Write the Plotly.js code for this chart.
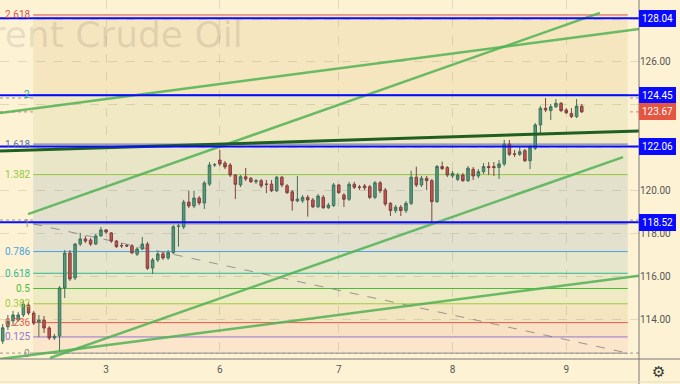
<!DOCTYPE html>
<html><head><meta charset="utf-8">
<script src="https://cdn.plot.ly/plotly-3.0.1.min.js"></script>
<style>html,body{margin:0;padding:0;background:#fdf3d4;}#chart{width:680px;height:384px;}</style>
</head><body><div id="chart"></div>
<script>
// ---- candle data (hourly, Brent) ----
const candleOpen = [112.97,113.64,113.91,113.95,114.19,114.65,114.28,113.86,113.95,113.58,113.12,113.21,115.45,117.08,115.92,117.50,117.74,117.69,117.50,117.89,118.16,118.02,117.64,117.43,117.43,117.42,117.03,117.27,117.50,116.38,116.76,117.04,116.85,117.10,118.32,118.30,119.46,119.28,119.65,119.42,120.30,121.19,121.42,121.28,121.19,120.72,120.26,120.64,120.57,120.41,120.46,120.30,120.30,119.99,120.62,120.22,119.94,119.51,119.52,119.68,119.56,119.24,119.68,119.20,119.30,120.26,119.79,119.59,120.29,120.16,120.21,120.18,119.68,120.36,120.02,119.40,119.06,119.22,119.06,119.40,120.62,120.26,120.57,120.46,119.48,121.12,121.07,120.68,120.52,120.72,120.46,120.99,120.68,120.88,121.12,121.12,121.08,121.24,122.17,121.71,121.69,121.86,121.39,121.97,123.06,123.84,123.73,123.91,124.07,123.76,123.60,123.45,123.94];
const candleHigh = [113.77,114.19,114.38,114.33,114.89,114.79,114.38,114.19,114.14,113.67,113.30,115.54,117.22,117.22,117.55,118.02,117.88,117.78,117.97,118.30,118.20,118.06,117.69,117.55,117.50,117.50,117.36,117.83,117.60,116.85,117.13,117.13,117.22,118.39,118.44,119.56,119.99,119.99,119.74,120.44,121.33,121.28,121.89,121.38,121.28,120.77,120.72,121.05,120.63,120.54,120.54,120.49,120.49,120.68,120.68,120.30,120.02,120.68,119.79,119.79,119.65,119.84,119.79,119.42,120.35,120.30,119.88,120.40,120.40,120.26,120.30,120.26,120.44,120.44,120.12,119.46,119.32,119.32,119.51,120.92,121.11,120.68,120.68,120.54,121.19,121.35,121.14,120.91,120.82,120.82,121.14,121.10,121.00,121.28,121.33,121.33,121.42,122.36,122.36,121.89,122.03,121.94,122.12,123.15,123.95,124.32,124.04,124.27,124.13,123.85,123.85,124.27,124.04];
const candleLow = [112.83,113.49,113.67,113.86,114.09,114.19,113.72,113.16,113.35,113.02,113.02,112.46,114.98,115.78,115.82,117.41,117.55,117.41,117.46,117.83,117.97,117.55,117.32,117.32,117.36,117.03,116.94,117.22,116.29,116.10,116.66,116.76,116.76,117.03,117.38,118.20,119.18,119.18,119.32,119.14,120.21,121.10,121.14,121.00,120.63,119.60,120.16,120.44,120.35,120.30,120.12,119.88,119.93,119.93,120.16,119.84,119.06,119.46,119.42,118.78,119.18,119.18,119.14,119.14,119.23,119.84,119.23,119.51,120.07,120.02,120.02,119.60,119.60,119.88,119.27,118.81,118.95,118.81,118.95,119.32,120.16,120.16,120.02,118.53,119.42,120.96,120.63,120.58,120.44,120.40,120.40,120.49,120.58,120.77,120.72,120.68,120.54,121.14,121.61,121.56,121.61,121.33,121.00,121.89,122.64,123.66,123.29,123.85,123.66,123.57,123.38,123.38,123.62];
const candleClose = [113.59,113.88,114.19,114.19,114.70,114.28,113.81,113.95,113.58,113.12,113.19,115.45,117.08,115.87,117.50,117.74,117.64,117.50,117.88,118.16,118.06,117.64,117.38,117.42,117.41,117.09,117.27,117.50,116.37,116.76,117.04,116.85,117.10,118.31,118.34,119.46,119.28,119.65,119.42,120.35,121.19,121.21,121.24,121.10,120.72,120.29,120.64,120.54,120.41,120.46,120.22,120.29,119.99,120.62,120.26,119.90,119.52,119.60,119.68,119.56,119.24,119.74,119.20,119.32,120.26,119.90,119.59,120.29,120.15,120.15,120.13,119.68,120.36,119.99,119.37,119.06,119.22,119.06,119.40,120.62,120.26,120.57,120.46,119.48,121.12,121.02,120.72,120.80,120.72,120.46,121.04,120.68,120.88,121.12,121.07,121.07,121.24,122.17,121.69,121.69,121.81,121.39,122.02,123.06,123.84,123.76,123.91,124.07,123.73,123.63,123.45,123.94,123.67];

// ---- x tick labels (day starts, candle index) ----
const dayTickIdx = [20, 42, 65, 87, 109];
const dayLabels = ['3', '6', '7', '8', '9'];

// ---- y ticks ----
const priceTicks = [114, 116, 118, 120, 122, 124, 126, 128];
const priceTickText = ['114.00', '116.00', '118.00', '120.00', '', '', '126.00', ''];

// ---- horizontal levels (blue) and last price ----
const keyLevels = [128.04, 124.45, 122.06, 118.52];
const lastPrice = 123.67;
const dottedLevels = [124.32, 118.62, 112.41];

// ---- Fibonacci retracement ----
const fibRatios = [0, 0.125, 0.236, 0.382, 0.5, 0.618, 0.786, 1, 1.382, 1.618, 2, 2.618];
const fibLabels = ['0', '0.125', '0.236', '0.382', '0.5', '0.618', '0.786', '1', '1.382', '1.618', '2', '2.618'];
const fibColors = ['#8c8c8c', '#9575cd', '#e8574a', '#a5c93d', '#4cbb3c', '#2fb88e', '#4aa3df', '#8c8c8c', '#93c83e', '#5c6fa8', '#2aa88e', '#e0504c'];
const fibBandColors = ['#fbe5cb', '#f9e2c4', '#f4e5c1', '#eeeac3', '#eae8c6', '#e5e6cb', '#e3e1cd', '#e3e0cb', '#e8e6c6', '#f1e8c4', '#f5e6bf'];
const fibLow = 112.41, fibHigh = 118.44;
const fibStartIdx = 5.9, fibEndIdx = 120.9;

// ---- trend lines [x0, y0, x1, y1] in candle index / price ----
const trendLines = [
  [4.89, 118.90, 115.5, 128.29],
  [-0.52, 123.62, 123.07, 127.54],
  [9.15, 112.18, 119.98, 121.56],
  [-0.52, 112.13, 123.07, 116.02]
];
const darkTrend = [-0.52, 121.84, 123.07, 122.78];

const idx = candleOpen.map((_, i) => i);
const fibPrice = r => fibLow + r * (fibHigh - fibLow);

const FONT = 'Roboto, "Liberation Sans", sans-serif';
const shapes = [];
const annotations = [];

// bands
for (let k = 0; k < fibRatios.length - 1; k++) {
  shapes.push({type: 'rect', xref: 'x', yref: 'y', layer: 'below',
    x0: fibStartIdx, x1: fibEndIdx, y0: fibPrice(fibRatios[k]), y1: fibPrice(fibRatios[k + 1]),
    fillcolor: fibBandColors[k], line: {width: 0}});
}
// fib lines + labels
fibRatios.forEach((r, k) => {
  shapes.push({type: 'line', xref: 'x', yref: 'y', layer: 'between',
    x0: fibStartIdx, x1: fibEndIdx, y0: fibPrice(r), y1: fibPrice(r),
    line: {color: fibColors[k], width: 1}});
  annotations.push({xref: 'x', yref: 'y', x: fibStartIdx, y: fibPrice(r), xanchor: 'right', yanchor: 'middle',
    text: fibLabels[k], showarrow: false, xshift: -1, font: {family: FONT, size: 10, color: fibColors[k]}});
});
// fib dashed trend
shapes.push({type: 'line', xref: 'x', yref: 'y', layer: 'between',
  x0: fibStartIdx, y0: fibHigh, x1: fibEndIdx, y1: fibLow,
  line: {color: 'rgba(120,120,120,0.75)', width: 1, dash: 'dash'}});

// dotted lines
dottedLevels.forEach(v => shapes.push({type: 'line', xref: 'paper', yref: 'y', layer: 'between',
  x0: 0, x1: 1, y0: v, y1: v, line: {color: 'rgba(110,110,110,0.7)', width: 1, dash: 'dot'}}));
shapes.push({type: 'line', xref: 'paper', yref: 'y', layer: 'between',
  x0: 0, x1: 1, y0: lastPrice, y1: lastPrice, line: {color: '#e07a6a', width: 1, dash: 'dot'}});

// trend lines (above)
trendLines.forEach(t => shapes.push({type: 'line', xref: 'x', yref: 'y', layer: 'above',
  x0: t[0], y0: t[1], x1: t[2], y1: t[3], line: {color: 'rgba(80,178,84,0.85)', width: 2.5}}));
shapes.push({type: 'line', xref: 'x', yref: 'y', layer: 'above',
  x0: darkTrend[0], y0: darkTrend[1], x1: darkTrend[2], y1: darkTrend[3], line: {color: '#1f5f22', width: 3}});

// key blue levels + right labels
keyLevels.forEach(v => {
  shapes.push({type: 'line', xref: 'paper', yref: 'y', layer: 'above',
    x0: 0, x1: 1, y0: v, y1: v, line: {color: '#0a0aff', width: 2}});
  annotations.push({xref: 'paper', yref: 'y', x: 1, y: v, xanchor: 'left', yanchor: 'middle',
    text: v.toFixed(2), showarrow: false, bgcolor: '#0a0aff', bordercolor: '#0a0aff', borderpad: 2,
    font: {family: FONT, size: 10, color: '#ffffff'}});
});
annotations.push({xref: 'paper', yref: 'y', x: 1, y: lastPrice, xanchor: 'left', yanchor: 'middle',
  text: lastPrice.toFixed(2), showarrow: false, bgcolor: '#e5553f', bordercolor: '#e5553f', borderpad: 2,
  font: {family: FONT, size: 10, color: '#ffffff'}});

// frame lines
shapes.push({type: 'line', xref: 'paper', yref: 'paper', x0: 1, x1: 1, y0: -0.07, y1: 1, line: {color: '#777', width: 1}});
shapes.push({type: 'line', xref: 'paper', yref: 'paper', x0: 0, x1: 1.0642, y0: 0, y1: 0, line: {color: '#777', width: 1}});
shapes.push({type: 'line', xref: 'paper', yref: 'paper', x0: 0, x1: 1.0642, y0: -0.064, y1: -0.064, line: {color: '#e6dcc0', width: 1}});

// watermark (partly cut at the left edge, as in the source)
annotations.push({xref: 'paper', yref: 'paper', x: 0.383, y: 0.905, xanchor: 'right', yanchor: 'middle',
  text: 'Brent Crude Oil', showarrow: false, font: {family: '"DejaVu Sans", sans-serif', size: 36, color: 'rgba(110,100,80,0.16)'}});
// settings icon
annotations.push({xref: 'paper', yref: 'paper', x: 1.031, y: -0.036, xanchor: 'center', yanchor: 'middle',
  text: '⚙', showarrow: false, font: {family: '"DejaVu Sans"', size: 15, color: '#333'}});

const trace = {
  type: 'candlestick', x: idx, open: candleOpen, high: candleHigh, low: candleLow, close: candleClose,
  increasing: {line: {color: '#40705c', width: 1}, fillcolor: '#4f9c7b'},
  decreasing: {line: {color: '#7e4340', width: 1}, fillcolor: '#c9514b'},
  whiskerwidth: 0, hoverinfo: 'skip'
};

const layout = {
  width: 680, height: 384,
  margin: {l: 0, r: 41, t: 0, b: 25},
  paper_bgcolor: '#fdf3d4', plot_bgcolor: '#fdf3d4',
  showlegend: false,
  font: {family: FONT},
  xaxis: {range: [-0.52, 123.07], tickvals: dayTickIdx, ticktext: dayLabels, showgrid: true,
    gridcolor: 'rgba(120,110,90,0.2)', griddash: 'dash', showline: false, ticks: '', zeroline: false,
    ticklabelstandoff: 3,
    tickfont: {family: FONT, size: 10, color: '#555'}, rangeslider: {visible: false}, fixedrange: true},
  yaxis: {side: 'right', range: [112.134, 128.894], tickvals: priceTicks, ticktext: priceTickText,
    showgrid: true, gridcolor: 'rgba(120,110,90,0.2)', griddash: 'dash', showline: false, ticks: '',
    zeroline: false, tickfont: {family: FONT, size: 10, color: '#555'}, fixedrange: true},
  shapes: shapes, annotations: annotations
};

Plotly.newPlot('chart', [trace], layout, {displayModeBar: false, staticPlot: true});
</script></body></html>
